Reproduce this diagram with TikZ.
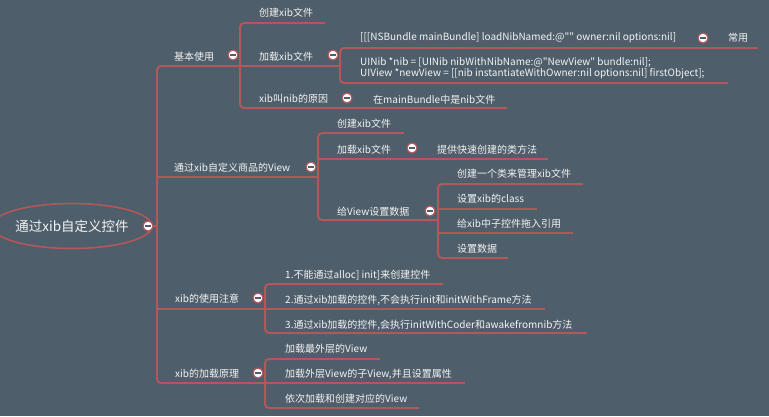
\documentclass[tikz,border=0pt]{standalone}
\usepackage{fontspec}
\setmainfont{Noto Sans CJK SC}[Ligatures=TeXOff]
\usetikzlibrary{shapes.geometric}
\definecolor{bg}{HTML}{4E5E6A}
\definecolor{ln}{HTML}{B3575B}
\definecolor{tx}{HTML}{F4F4F4}
\begin{document}
\begin{tikzpicture}[x=1pt,y=-1pt,
  lbl/.style={anchor=west,inner sep=0pt,text=tx,font=\fontsize{10}{12}\selectfont},
  conn/.style={draw=ln,line width=2pt,rounded corners=4pt},
  fold/.style={circle,draw=ln,fill=white,line width=1.2pt,minimum size=10pt,inner sep=0pt,
    path picture={\draw[bg,line width=1.4pt] ([xshift=-2.6pt]path picture bounding box.center) -- ([xshift=2.6pt]path picture bounding box.center);}}]
\fill[bg] (0,0) rectangle (769,416);
\useasboundingbox (0,0) rectangle (769,416);

% coordinates
\coordinate (T1) at (157,66);
\coordinate (T2) at (157,177);
\coordinate (T3) at (157,309);
\coordinate (T4) at (157,383);
\coordinate (T0) at (157,226);
% branch 1
\coordinate (a0) at (240,66);
\coordinate (a1t) at (240,23); \coordinate (a1e) at (325,23);
\coordinate (a3b) at (240,108); \coordinate (a3e) at (507,108);
\coordinate (b0) at (340,66);
\coordinate (b1t) at (340,48); \coordinate (b1e) at (758,48);
\coordinate (b2b) at (340,83); \coordinate (b2e) at (728,83);
% branch 2
\coordinate (c0) at (318,177);
\coordinate (c1t) at (318,133); \coordinate (c1e) at (404,133);
\coordinate (c2s) at (318,159); \coordinate (c2e) at (548,159);
\coordinate (c3b) at (318,220); \coordinate (d0) at (438,220);
\coordinate (d1t) at (438,184); \coordinate (d1e) at (583,184);
\coordinate (d2s) at (438,209); \coordinate (d2e) at (537,209);
\coordinate (d3s) at (438,233); \coordinate (d3e) at (573,233);
\coordinate (d4b) at (438,258); \coordinate (d4e) at (508,258);
% branch 3
\coordinate (e0) at (265,309);
\coordinate (e1t) at (265,284); \coordinate (e1e) at (443,284);
\coordinate (e2e) at (545,309);
\coordinate (e3b) at (265,333); \coordinate (e3e) at (587,333);
% branch 4
\coordinate (f0) at (265,383);
\coordinate (f1t) at (265,359); \coordinate (f1e) at (380,359);
\coordinate (f2e) at (465,383);
\coordinate (f3b) at (265,408); \coordinate (f3e) at (419,408);

% root
\node[ellipse,draw=ln,line width=1.6pt,minimum width=140pt,minimum height=45pt,inner sep=0pt,text=tx,font=\fontsize{13.5}{15}\selectfont] (root) at (72,226) {通过xib自定义控件};

% connectors
\draw[conn] (a0) -- (T1) -- (T4) -- (f0);
\draw[conn] (T0) -- (148,226);
\draw[conn] (a1e) -- (a1t) -- (a3b) -- (a3e);
\draw[conn] (a0) -- (b0);
\draw[conn] (b1e) -- (b1t) -- (b2b) -- (b2e);
\draw[conn] (T2) -- (c0);
\draw[conn] (c1e) -- (c1t) -- (c3b) -- (d0);
\draw[conn] (c2s) -- (c2e);
\draw[conn] (d1e) -- (d1t) -- (d4b) -- (d4e);
\draw[conn] (d2s) -- (d2e);
\draw[conn] (d3s) -- (d3e);
\draw[conn] (T3) -- (e0) -- (e2e);
\draw[conn] (e1e) -- (e1t) -- (e3b) -- (e3e);
\draw[conn] (f0) -- (f2e);
\draw[conn] (f1e) -- (f1t) -- (f3b) -- (f3e);

% fold markers
\node[fold] (k0) at (148,226) {};
\node[fold] (k1) at (233,55) {};
\node[fold] (k2) at (333,55) {};
\node[fold] (k3) at (703,38) {};
\node[fold] (k4) at (347,98) {};
\node[fold] (k5) at (311,167) {};
\node[fold] (k6) at (412,148) {};
\node[fold] (k7) at (430,211) {};
\node[fold] (k8) at (258,298) {};
\node[fold] (k9) at (258,373) {};

% labels
\node[lbl] (n1) at (174,57) {基本使用};
\node[lbl] (n11) at (259,13) {创建xib文件};
\node[lbl] (n12) at (259,57) {加载xib文件};
\node[lbl] (n121) at (360,38) {[[[NSBundle mainBundle] loadNibNamed:@"" owner:nil options:nil]};
\node[lbl] (n1211) at (728,38) {常用};
\node[lbl,align=left,font=\fontsize{10}{11.3}\selectfont] (n122) at (360,68.5) {UINib *nib = [UINib nibWithNibName:@"NewView" bundle:nil];\\UIView *newView = [[nib instantiateWithOwner:nil options:nil] firstObject];};
\node[lbl] (n13) at (259,99) {xib叫nib的原因};
\node[lbl] (n131) at (373,100) {在mainBundle中是nib文件};
\node[lbl] (n2) at (174,168) {通过xib自定义商品的View};
\node[lbl] (n21) at (337,124) {创建xib文件};
\node[lbl] (n22) at (337,150) {加载xib文件};
\node[lbl] (n221) at (437,150) {提供快速创建的类方法};
\node[lbl] (n23) at (337,212) {给View设置数据};
\node[lbl] (n231) at (457,174) {创建一个类来管理xib文件};
\node[lbl] (n232) at (457,199) {设置xib的class};
\node[lbl] (n233) at (457,224) {给xib中子控件拖入引用};
\node[lbl] (n234) at (457,249) {设置数据};
\node[lbl] (n3) at (175,299) {xib的使用注意};
\node[lbl] (n31) at (285,275) {1.不能通过alloc] init]来创建控件};
\node[lbl] (n32) at (285,300) {2.通过xib加载的控件,不会执行init和initWithFrame方法};
\node[lbl] (n33) at (285,325) {3.通过xib加载的控件,会执行initWithCoder和awakefromnib方法};
\node[lbl] (n4) at (175,374) {xib的加载原理};
\node[lbl] (n41) at (285,349) {加载最外层的View};
\node[lbl] (n42) at (285,374) {加载外层View的子View,并且设置属性};
\node[lbl] (n43) at (285,399) {依次加载和创建对应的View};
\end{tikzpicture}
\end{document}
